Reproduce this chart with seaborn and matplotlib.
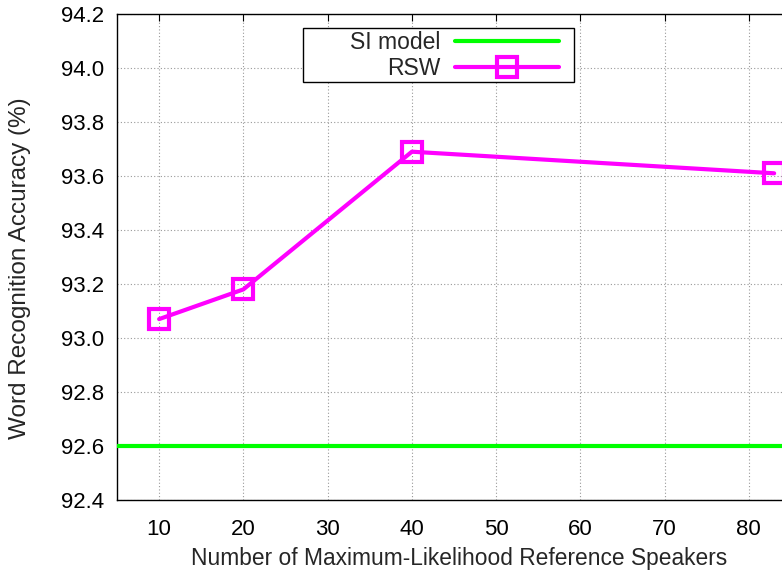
import numpy as np
import pandas as pd
import matplotlib.pyplot as plt
import seaborn as sns
from matplotlib.patches import Rectangle
from matplotlib.ticker import FormatStrFormatter

sns.set_style('white')
plt.rcParams['font.family'] = ['Liberation Sans', 'DejaVu Sans']

# values
speakers = [10, 20, 40, 83]
rsw_acc = [93.07, 93.18, 93.69, 93.61]
si_acc = 92.6
x_ticks = [10, 20, 30, 40, 50, 60, 70, 80]
y_ticks = [92.4, 92.6, 92.8, 93.0, 93.2, 93.4, 93.6, 93.8, 94.0, 94.2]

df = pd.DataFrame({'speakers': speakers, 'acc': rsw_acc})

W, H = 782, 572
fig = plt.figure(figsize=(W / 100, H / 100), dpi=100, facecolor='white')
# axes runs a bit past the right edge of the picture, like the cropped original
ax = fig.add_axes([117 / W, (H - 500) / H, 674 / W, 486 / H])

ax.axhline(si_acc, color='#00ff00', linewidth=3, label='SI model', zorder=3)
sns.lineplot(data=df, x='speakers', y='acc', ax=ax, color='#ff00ff', linewidth=3,
             marker='s', markersize=15, markerfacecolor='none',
             markeredgecolor='#ff00ff', markeredgewidth=3, label='RSW', zorder=4)

ax.set_xlim(5, 85)
ax.set_ylim(92.4, 94.2)
ax.set_xticks(x_ticks)
ax.set_yticks(y_ticks)
ax.yaxis.set_major_formatter(FormatStrFormatter('%.1f'))
ax.grid(True, color='#999999', linestyle=(0, (1, 2)), linewidth=0.8)
ax.set_axisbelow(True)

for s in ax.spines.values():
    s.set_color('black')
    s.set_linewidth(1.0)

ax.tick_params(axis='both', direction='in', length=5, width=0.8, color='black',
               top=True, right=True, labelsize=16, labelcolor='black')
ax.tick_params(axis='y', pad=9)
ax.tick_params(axis='x', pad=14)

ax.set_xlabel('Number of Maximum-Likelihood Reference Speakers', fontsize=16.4)
ax.set_ylabel('Word Recognition Accuracy (%)', fontsize=17.5)
ax.xaxis.label.set_va('center')
ax.yaxis.label.set_va('center')
ax.xaxis.set_label_coords((459 - 117) / 674, (500 - 559) / 486)
ax.yaxis.set_label_coords((20 - 117) / 674, (500 - 268.5) / 486)

leg = ax.legend(loc='center right', bbox_to_anchor=(559 / W, 1 - 55.5 / H),
                bbox_transform=fig.transFigure, frameon=False, markerfirst=False,
                fontsize=16.5, handlelength=4.54, handletextpad=0.65, borderpad=0,
                borderaxespad=0, labelspacing=0.1, numpoints=1)
fig.patches.append(Rectangle((303 / W, 1 - 82 / H), 271 / W, 54 / H,
                             transform=fig.transFigure, facecolor='white',
                             edgecolor='black', linewidth=1.0, zorder=5))
leg.set_zorder(6)
fig.add_artist(leg)

fig.savefig('out.png', dpi=100)
